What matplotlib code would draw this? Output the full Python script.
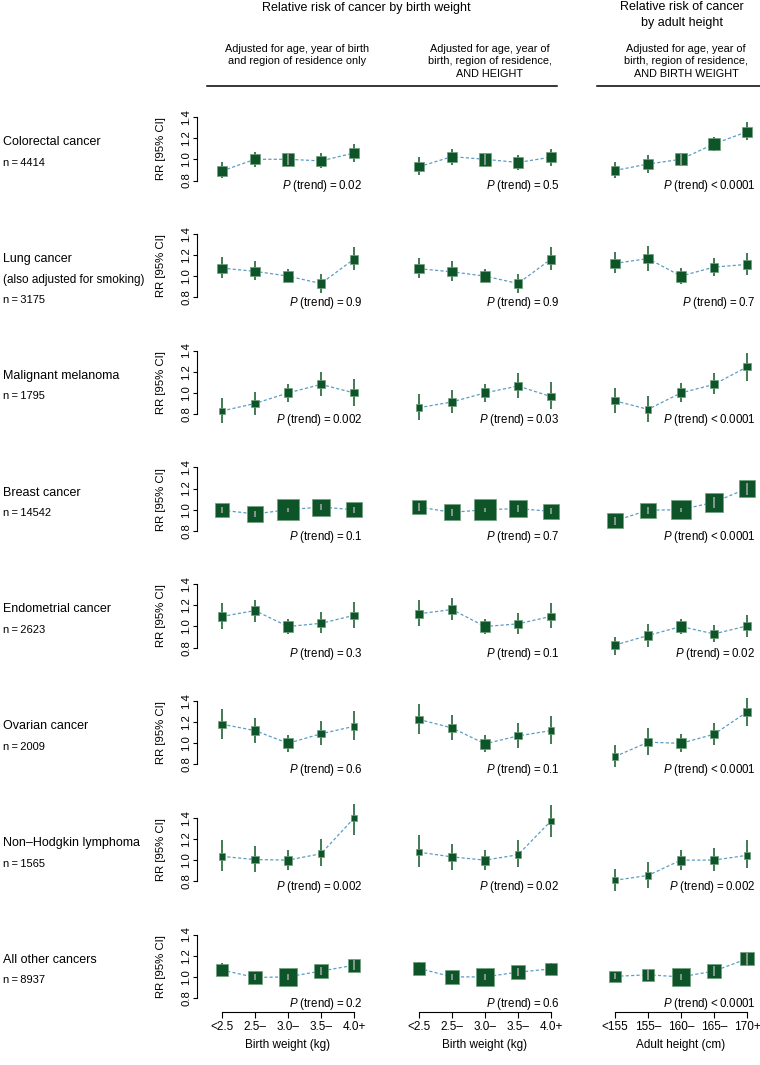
import matplotlib
matplotlib.use('Agg')
import matplotlib.pyplot as plt
from matplotlib.lines import Line2D
import numpy as np

plt.rcParams['font.family'] = ['Liberation Sans', 'DejaVu Sans']
plt.rcParams['mathtext.fontset'] = 'custom'
plt.rcParams['mathtext.rm'] = 'Liberation Sans'
plt.rcParams['mathtext.it'] = 'Liberation Sans:italic'

# ---- data ----
cancer_names = ['Colorectal cancer', 'Lung cancer', 'Malignant melanoma', 'Breast cancer',
                'Endometrial cancer', 'Ovarian cancer', 'Non\u2013Hodgkin lymphoma', 'All other cancers']
cancer_notes = ['', '(also adjusted for smoking)', '', '', '', '', '', '']
n_cases = [4414, 3175, 1795, 14542, 2623, 2009, 1565, 8937]

bw_labels = ['<2.5', '2.5\u2013', '3.0\u2013', '3.5\u2013', '4.0+']
ht_labels = ['<155', '155\u2013', '160\u2013', '165\u2013', '170+']

# birth weight, adjusted for age, year of birth and region only
rr_bw = np.array([
    [0.89, 1.00, 1.00, 0.985, 1.06],
    [1.075, 1.045, 1.00, 0.93, 1.16],
    [0.83, 0.90, 1.00, 1.08, 1.00],
    [0.995, 0.96, 1.00, 1.025, 1.00],
    [1.095, 1.15, 1.00, 1.03, 1.105],
    [1.18, 1.12, 1.00, 1.09, 1.16],
    [1.035, 1.005, 1.00, 1.06, 1.395],
    [1.065, 0.995, 1.00, 1.055, 1.11]])
lo_bw = np.array([
    [0.82, 0.93, 0.95, 0.92, 0.97],
    [0.98, 0.96, 0.94, 0.84, 1.06],
    [0.72, 0.79, 0.915, 0.975, 0.875],
    [0.965, 0.93, 0.98, 0.995, 0.97],
    [0.98, 1.045, 0.93, 0.935, 0.99],
    [1.04, 1.005, 0.915, 0.98, 1.03],
    [0.90, 0.885, 0.91, 0.94, 1.24],
    [1.01, 0.97, 0.975, 1.02, 1.065]])
hi_bw = np.array([
    [0.97, 1.07, 1.05, 1.06, 1.14],
    [1.18, 1.14, 1.07, 1.02, 1.27],
    [0.95, 1.005, 1.085, 1.20, 1.13],
    [1.025, 0.99, 1.02, 1.055, 1.03],
    [1.22, 1.25, 1.07, 1.135, 1.23],
    [1.325, 1.24, 1.08, 1.21, 1.30],
    [1.19, 1.13, 1.095, 1.195, 1.53],
    [1.13, 1.025, 1.025, 1.09, 1.155]])

# birth weight, also adjusted for height
rr_bwh = np.array([
    [0.93, 1.025, 1.00, 0.97, 1.02],
    [1.07, 1.04, 1.00, 0.93, 1.16],
    [0.86, 0.915, 1.00, 1.065, 0.965],
    [1.025, 0.975, 1.00, 1.01, 0.985],
    [1.12, 1.16, 1.00, 1.025, 1.095],
    [1.225, 1.145, 0.995, 1.07, 1.12],
    [1.075, 1.03, 1.00, 1.05, 1.37],
    [1.08, 1.00, 1.00, 1.045, 1.075]])
lo_bwh = np.array([
    [0.85, 0.95, 0.95, 0.90, 0.94],
    [0.98, 0.95, 0.94, 0.84, 1.06],
    [0.745, 0.815, 0.915, 0.955, 0.845],
    [0.99, 0.945, 0.98, 0.98, 0.955],
    [1.00, 1.06, 0.93, 0.93, 0.985],
    [1.085, 1.03, 0.915, 0.96, 0.995],
    [0.935, 0.91, 0.91, 0.935, 1.22],
    [1.02, 0.97, 0.975, 1.01, 1.02]])
hi_bwh = np.array([
    [1.02, 1.10, 1.05, 1.04, 1.10],
    [1.17, 1.14, 1.07, 1.02, 1.27],
    [0.985, 1.025, 1.085, 1.185, 1.10],
    [1.06, 1.005, 1.02, 1.04, 1.015],
    [1.25, 1.265, 1.07, 1.125, 1.22],
    [1.375, 1.27, 1.08, 1.19, 1.26],
    [1.235, 1.15, 1.095, 1.185, 1.52],
    [1.14, 1.03, 1.025, 1.08, 1.135]])

# adult height, adjusted for birth weight
rr_ht = np.array([
    [0.895, 0.955, 1.00, 1.145, 1.26],
    [1.12, 1.165, 1.00, 1.085, 1.11],
    [0.925, 0.845, 1.00, 1.08, 1.245],
    [0.895, 0.995, 1.00, 1.07, 1.20],
    [0.825, 0.915, 1.00, 0.93, 1.005],
    [0.875, 1.01, 1.00, 1.085, 1.295],
    [0.81, 0.855, 1.00, 1.00, 1.045],
    [1.005, 1.02, 1.00, 1.055, 1.17]])
lo_ht = np.array([
    [0.82, 0.87, 0.95, 1.08, 1.18],
    [1.03, 1.05, 0.93, 1.00, 1.01],
    [0.815, 0.73, 0.91, 0.985, 1.115],
    [0.86, 0.96, 0.98, 1.02, 1.14],
    [0.735, 0.81, 0.93, 0.85, 0.905],
    [0.775, 0.89, 0.915, 0.985, 1.16],
    [0.705, 0.735, 0.91, 0.895, 0.925],
    [0.98, 0.97, 0.975, 1.01, 1.115]])
hi_ht = np.array([
    [0.97, 1.04, 1.05, 1.21, 1.35],
    [1.225, 1.28, 1.08, 1.17, 1.22],
    [1.045, 0.97, 1.09, 1.185, 1.38],
    [0.93, 1.03, 1.02, 1.12, 1.25],
    [0.905, 1.02, 1.07, 1.01, 1.11],
    [0.985, 1.14, 1.085, 1.19, 1.43],
    [0.92, 0.985, 1.095, 1.11, 1.185],
    [1.035, 1.07, 1.025, 1.10, 1.225]])

# approximate number of cases per category (drives box size)
cases_bw = np.array([
    [600, 800, 1450, 850, 714],
    [600, 600, 950, 450, 575],
    [220, 320, 560, 400, 295],
    [1900, 2500, 4900, 2900, 2342],
    [480, 560, 900, 380, 303],
    [320, 450, 720, 300, 219],
    [220, 320, 560, 270, 195],
    [1300, 1650, 3000, 1600, 1387]])
cases_ht = np.array([
    [550, 700, 1200, 1150, 814],
    [600, 600, 950, 575, 450],
    [300, 250, 550, 400, 295],
    [2200, 2200, 4000, 3600, 2542],
    [330, 480, 900, 520, 393],
    [220, 380, 700, 420, 289],
    [200, 250, 550, 330, 235],
    [1100, 1300, 3000, 2000, 1537]])

p_bw = ['= 0.02', '= 0.9', '= 0.002', '= 0.1', '= 0.3', '= 0.6', '= 0.002', '= 0.2']
p_bwh = ['= 0.5', '= 0.9', '= 0.03', '= 0.7', '= 0.1', '= 0.1', '= 0.02', '= 0.6']
p_ht = ['< 0.0001', '= 0.7', '< 0.0001', '< 0.0001', '= 0.02', '< 0.0001', '= 0.002', '< 0.0001']

panels = [
    (rr_bw, lo_bw, hi_bw, cases_bw, p_bw, bw_labels, 'Birth weight (kg)'),
    (rr_bwh, lo_bwh, hi_bwh, cases_bw, p_bwh, bw_labels, 'Birth weight (kg)'),
    (rr_ht, lo_ht, hi_ht, cases_ht, p_ht, ht_labels, 'Adult height (cm)'),
]

# ---- layout (pixels) ----
W, H = 760, 1065
fig = plt.figure(figsize=(W / 100, H / 100), dpi=100)

row0, row_step = 159.3, 116.8
ppu = 106.0                       # pixels per RR unit
col_start = [222, 419, 615]
sp = 33.0                         # pixels between categories
xmin, xmax = -0.75, 4.3
ymin, ymax = 0.6, 1.6

box_col = '#0e5429'
ci_col = '#24643a'
dash_col = '#5b9cc4'

x = np.arange(5)
for i in range(len(cancer_names)):
    y1 = row0 + row_step * i
    fig.text(3 / W, 1 - (y1 - 17) / H, cancer_names[i], fontsize=9, va='center')
    if cancer_notes[i]:
        fig.text(3 / W, 1 - (y1 + 3.5) / H, cancer_notes[i], fontsize=8.5, va='center')
        fig.text(3 / W, 1 - (y1 + 24) / H, 'n\u2009=\u2009%d' % n_cases[i], fontsize=8, va='center')
    else:
        fig.text(3 / W, 1 - (y1 + 3.5) / H, 'n\u2009=\u2009%d' % n_cases[i], fontsize=8, va='center')

    for j, (rr_a, lo_a, hi_a, cs_a, p_a, labels, xlab) in enumerate(panels):
        left = col_start[j] + xmin * sp
        width = (xmax - xmin) * sp
        bottom = y1 + (1.0 - ymin) * ppu
        ax = fig.add_axes([left / W, 1 - bottom / H, width / W, ppu * (ymax - ymin) / H])
        ax.set_xlim(xmin, xmax)
        ax.set_ylim(ymin, ymax)
        ax.patch.set_alpha(0)

        rr, lo, hi = rr_a[i], lo_a[i], hi_a[i]
        side_px = 2.5 + 0.27 * np.sqrt(cs_a[i])
        ax.plot(x, rr, ls=(0, (2.5, 1.8)), color=dash_col, lw=0.9, zorder=1, clip_on=False)
        ax.vlines(x, lo, hi, color=ci_col, lw=1.2, zorder=2, clip_on=False)
        ax.scatter(x, rr, s=(side_px * 0.72) ** 2, marker='s', c=box_col,
                   edgecolors='#6f9f7b', linewidths=0.5, zorder=3, clip_on=False)
        half = side_px / 2 / ppu
        inside = (lo >= rr - half) & (hi <= rr + half)
        ax.vlines(x[inside], lo[inside], hi[inside], color='#a9a9a9', lw=1.1, zorder=4)

        ax.text(4.25, 0.745, r'$P$ (trend)' + '\u2009' + p_a[i].replace(' ', '\u2009'),
                ha='right', va='center', fontsize=8.3)

        for s in ['top', 'right']:
            ax.spines[s].set_visible(False)
        if j == 0:
            ax.spines['left'].set_bounds(0.8, 1.4)
            ax.spines['left'].set_linewidth(0.8)
            ax.set_yticks([0.8, 1.0, 1.2, 1.4])
            ax.set_yticklabels(['0.8', '1.0', '1.2', '1.4'])
            ax.tick_params(axis='y', labelrotation=90, length=3, width=0.8, pad=1.5,
                           labelsize=8.2)
            for t in ax.get_yticklabels():
                t.set_va('center')
            ax.set_ylabel('RR [95% CI]', fontsize=8.2)
            ax.yaxis.set_label_coords((166 - left) / width, 0.5)
        else:
            ax.spines['left'].set_visible(False)
            ax.set_yticks([])

        if i == len(cancer_names) - 1:
            ax.spines['bottom'].set_position(('data', 1.0 - (1012 - y1) / ppu))
            ax.spines['bottom'].set_bounds(0, 4)
            ax.spines['bottom'].set_linewidth(0.8)
            ax.set_xticks(x)
            ax.set_xticklabels(labels)
            ax.tick_params(axis='x', length=4, width=0.8, pad=2.5, labelsize=8.5)
            ax.set_xlabel(xlab, fontsize=8.5)
            ax.xaxis.set_label_coords((2 - xmin) / (xmax - xmin),
                                      (1.0 - (1039 - y1) / ppu - ymin) / (ymax - ymin))
        else:
            ax.spines['bottom'].set_visible(False)
            ax.set_xticks([])

# ---- headers ----
fig.text(366 / W, 1 - 8 / H, 'Relative risk of cancer by birth weight', fontsize=9,
         ha='center', va='center')
fig.text(682 / W, 1 - 1 / H, 'Relative risk of cancer\nby adult height', fontsize=9,
         ha='center', va='top', linespacing=1.4)
fig.text(297 / W, 1 - 44 / H, 'Adjusted for age, year of birth\nand region of residence only',
         fontsize=7.8, ha='center', va='top', linespacing=1.3)
fig.text(490 / W, 1 - 44 / H, 'Adjusted for age, year of\nbirth, region of residence,\nAND HEIGHT',
         fontsize=7.8, ha='center', va='top', linespacing=1.3)
fig.text(686 / W, 1 - 44 / H, 'Adjusted for age, year of\nbirth, region of residence,\nAND BIRTH WEIGHT',
         fontsize=7.8, ha='center', va='top', linespacing=1.3)
fig.add_artist(Line2D([207 / W, 557 / W], [1 - 86 / H] * 2, color='black', lw=1.1))
fig.add_artist(Line2D([597 / W, 760 / W], [1 - 86 / H] * 2, color='black', lw=1.1))

fig.savefig('out.png', dpi=100)
